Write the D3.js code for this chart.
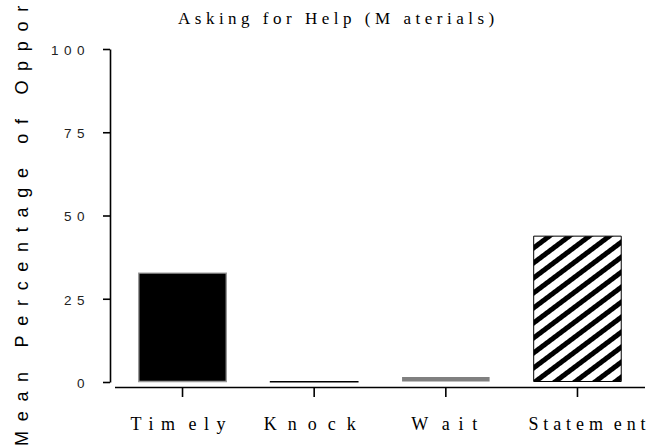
<!DOCTYPE html>
<html>
<head>
<meta charset="utf-8">
<script src="https://cdn.jsdelivr.net/npm/d3@7"></script>
<style>
  body { margin: 0; background: #fff; }
  svg { display: block; }
</style>
</head>
<body>
<svg id="chart" width="664" height="447"></svg>
<script>
// Bar categories and their mean percentages
const categories = ["Timely", "Knock", "Wait", "Statement"];
const values = [32.7, 0, 1.5, 43.8];
// Where each category label shows its wider gap (character index)
const labelGapAt = [3, 0, 1, 6];
const yTicks = [0, 25, 50, 75, 100];
const titleText = "Asking for Help (Materials)";
const yLabelText = "Mean Percentage of Opportunities";

// per-label letter spacing and horizontal nudge from the tick
const labelSpacing = [7.5, 11, 8.8, 4.9];
const labelNudge = [-0.75, 1, 2.9, 12];

const svg = d3.select("#chart");

const x = d3.scaleBand()
  .domain(categories)
  .range([116.7, 643.3])
  .paddingInner(0.335)
  .paddingOuter(0.1675);

const y = d3.scaleLinear().domain([0, 100]).range([382, 49]);

// hatch fill for the last bar
const defs = svg.append("defs");
const hatch = defs.append("pattern")
  .attr("id", "hatch")
  .attr("patternUnits", "userSpaceOnUse")
  .attr("width", 12).attr("height", 12)
  .attr("patternTransform", "rotate(53.13)");
hatch.append("rect").attr("width", 12).attr("height", 12).attr("fill", "#fff");
hatch.append("rect").attr("width", 5).attr("height", 12).attr("fill", "#000");

const fills = ["#000", "none", "#808080", "url(#hatch)"];
const strokes = ["#999", "#000", "none", "#000"];
const strokeW = [1.4, 1.2, 0, 1];

// bars drawn as closed paths so a zero value still shows a baseline stroke
svg.append("g").selectAll("path")
  .data(categories)
  .join("path")
  .attr("d", (c, i) => {
    const x0 = x(c), x1 = x(c) + x.bandwidth();
    const y0 = y(0) - 0.5, y1 = y(values[i]);
    return `M${x0},${y0}V${y1}H${x1}V${y0}Z`;
  })
  .attr("fill", (c, i) => fills[i])
  .attr("stroke", (c, i) => strokes[i])
  .attr("stroke-width", (c, i) => strokeW[i]);

// y axis
const yAxis = svg.append("g")
  .attr("transform", "translate(110,0)")
  .call(d3.axisLeft(y).tickValues(yTicks).tickSize(7).tickSizeOuter(0).tickPadding(13));
yAxis.select(".domain").attr("stroke-width", 1.6);
yAxis.selectAll(".tick line").attr("stroke-width", 1.6);
yAxis.selectAll(".tick text")
  .attr("font-family", "Liberation Sans, Arial, sans-serif")
  .attr("font-size", 13.5)
  .attr("letter-spacing", 5.5)
  .attr("dy", "0.4em")
  .attr("fill", "#222");

// x axis, detached from the y axis
const xAxis = svg.append("g")
  .attr("transform", "translate(0,387)")
  .call(d3.axisBottom(x).tickSize(10).tickSizeOuter(0).tickFormat(""));
xAxis.select(".domain").attr("d", "M115,0.5H645").attr("stroke-width", 1.6);
xAxis.selectAll(".tick line").attr("stroke-width", 1.6);

// category labels
const serif = "Liberation Serif, Times New Roman, serif";
const lbl = svg.append("g")
  .attr("font-family", serif)
  .attr("font-size", 18)
  .attr("fill", "#000")
  .attr("text-anchor", "middle");
categories.forEach((c, i) => {
  const t = lbl.append("text")
    .attr("x", x(c) + x.bandwidth() / 2 + labelNudge[i])
    .attr("y", 430)
    .attr("letter-spacing", labelSpacing[i]);
  const k = labelGapAt[i];
  if (k > 0) {
    t.append("tspan").text(c.slice(0, k));
    t.append("tspan").attr("dx", 6).text(c.slice(k));
  } else {
    t.text(c);
  }
});

// title
const title = svg.append("text")
  .attr("x", 178)
  .attr("y", 24)
  .attr("font-family", serif)
  .attr("font-size", 17)
  .attr("letter-spacing", 4.5)
  .attr("fill", "#000");
title.append("tspan").text(titleText.slice(0, 18));
title.append("tspan").attr("dx", 9).text(titleText.slice(18));

// y axis title, running off the top edge
svg.append("text")
  .attr("transform", "translate(28,446) rotate(-90)")
  .attr("font-family", "Liberation Sans, Arial, sans-serif")
  .attr("font-size", 18)
  .attr("letter-spacing", 9.7)
  .attr("fill", "#000")
  .text(yLabelText);
</script>
</body>
</html>
